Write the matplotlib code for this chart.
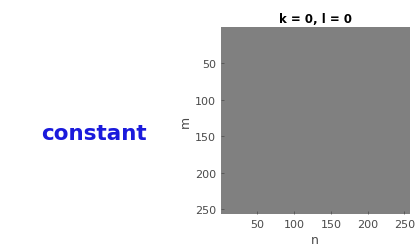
import numpy as np
import matplotlib
matplotlib.use("Agg")
import matplotlib.pyplot as plt

# basis image for k = 0, l = 0 is constant
N = 256
k, l = 0, 0
level = 0.0
ticks = [50, 100, 150, 200, 250]
title = "k = 0, l = 0"
note = "constant"

image = np.full((N, N), level)

fig = plt.figure(figsize=(4.17, 2.51), dpi=100)
ax = fig.add_axes([0.530, 0.143, 0.451, 0.745])
ax.imshow(image, cmap="gray", vmin=-1, vmax=1, extent=(0.5, N + 0.5, N + 0.5, 0.5),
          aspect="auto", interpolation="nearest")
ax.set_xticks(ticks)
ax.set_yticks(ticks)
ax.tick_params(direction="in", length=2, labelsize=8, colors="#4a4a4a", width=0.5)
for s in ax.spines.values():
    s.set_visible(False)
ax.set_xlabel("n", fontsize=9, color="#4a4a4a", labelpad=3)
ax.set_ylabel("m", fontsize=9, color="#4a4a4a", labelpad=2)
ax.set_title(title, fontsize=8.5, fontweight="bold", pad=4)

fig.text(0.225, 0.465, note, fontsize=15.5, color="#1a1adc", ha="center", va="center",
         fontweight="bold")

fig.savefig("out.png", dpi=100)
